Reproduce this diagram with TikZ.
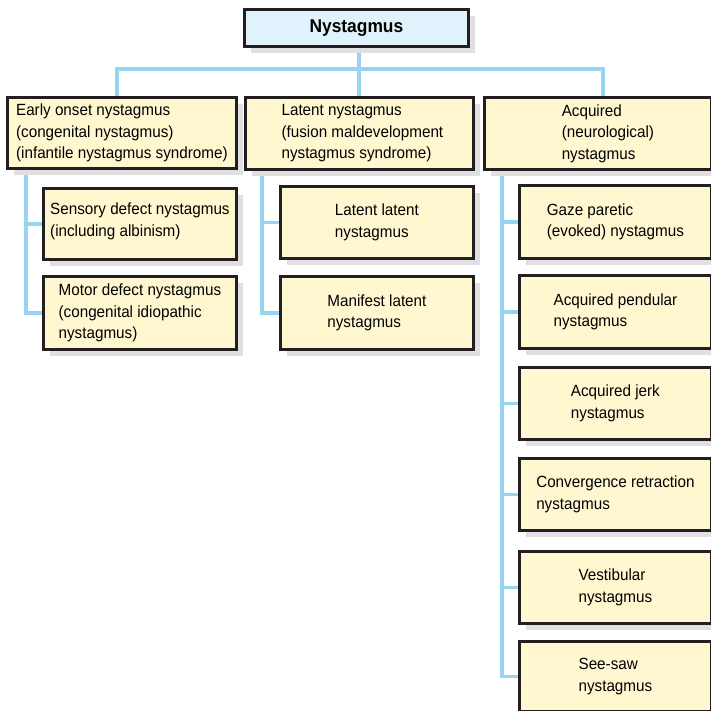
\documentclass[tikz,border=0pt]{standalone}
\usepackage{fontspec}
\setmainfont{Liberation Sans}[FakeStretch=0.94]
\usetikzlibrary{shadows,backgrounds}
\definecolor{boxfill}{RGB}{255,247,208}
\definecolor{topfill}{RGB}{224,242,251}
\definecolor{conncol}{RGB}{150,212,240}
\definecolor{shadowcol}{RGB}{224,224,227}
\definecolor{edgecol}{RGB}{35,31,32}
\tikzset{
  box/.style={draw=edgecol, line width=2.8pt, fill=boxfill, anchor=north west,
    align=left, inner sep=2pt,
    font=\fontsize{16.2}{21.5}\selectfont,
    drop shadow={shadow xshift=7pt, shadow yshift=-7pt, fill=shadowcol, opacity=1}},
  topbox/.style={box, fill=topfill, font=\fontsize{18.5}{21}\selectfont\bfseries},
  conn/.style={draw=conncol, line width=3.2pt},
}
\begin{document}
\begin{tikzpicture}[x=1pt,y=-1pt]
\useasboundingbox (0,0) rectangle (711,711);
\coordinate (hy) at (0,69);
\coordinate (xl) at (117,0);
\coordinate (xm) at (359,0);
\coordinate (xr) at (603,0);
\coordinate (xa) at (26,0);
\coordinate (xb) at (262,0);
\coordinate (xc) at (502,0);
% top
\node[topbox, minimum width=224, minimum height=37] (T) at (243,8) {Nystagmus};
% level 2
\node[box, minimum width=229, minimum height=71] (A) at (6,96)
  {Early onset nystagmus\\(congenital nystagmus)\\(infantile nystagmus syndrome)};
\node[box, minimum width=228, minimum height=72] (B) at (244,96)
  {\hspace*{6pt}Latent nystagmus\\\hspace*{6pt}(fusion maldevelopment\\\hspace*{6pt}nystagmus syndrome)};
\node[box, minimum width=227, minimum height=72] (C) at (483,96)
  {\hspace*{20pt}Acquired\\\hspace*{20pt}(neurological)\\\hspace*{20pt}nystagmus};
% level 3 left
\node[box, minimum width=193, minimum height=71] (A1) at (42,187)
  {Sensory defect nystagmus\\(including albinism)\\[-13pt]\mbox{}};
\node[box, minimum width=193, minimum height=73] (A2) at (42,275)
  {Motor defect nystagmus\\(congenital idiopathic\\nystagmus)};
% level 3 middle
\node[box, minimum width=193, minimum height=72] (B1) at (279,185)
  {Latent latent\\nystagmus};
\node[box, minimum width=193, minimum height=73] (B2) at (279,275)
  {Manifest latent\\nystagmus};
% level 3 right
\node[box, minimum width=192, minimum height=73] (C1) at (518,184)
  {Gaze paretic\\(evoked) nystagmus};
\node[box, minimum width=192, minimum height=73] (C2) at (518,274)
  {Acquired pendular\\nystagmus};
\node[box, minimum width=192, minimum height=72] (C3) at (518,366)
  {Acquired jerk\\nystagmus};
\node[box, minimum width=192, minimum height=72] (C4) at (518,457)
  {Convergence retraction\\nystagmus};
\node[box, minimum width=192, minimum height=72] (C5) at (518,550)
  {Vestibular\\nystagmus};
\node[box, minimum width=192, minimum height=70] (C6) at (518,640)
  {See-saw\\nystagmus};
% connectors behind the boxes
\begin{scope}[on background layer]
\draw[conn] (xm |- T.south) -- (xm |- B.north);
\draw[conn] (xl |- A.north) -- (xl |- hy) -- (xr |- hy) -- (xr |- C.north);
\draw[conn] (xa |- A.south) |- (A1.west);
\draw[conn] (xa |- A.south) |- (A2.west);
\draw[conn] (xb |- B.south) |- (B1.west);
\draw[conn] (xb |- B.south) |- (B2.west);
\draw[conn] (xc |- C.south) |- (C1.west);
\draw[conn] (xc |- C.south) |- (C2.west);
\draw[conn] (xc |- C.south) |- (C3.west);
\draw[conn] (xc |- C.south) |- (C4.west);
\draw[conn] (xc |- C.south) |- (C5.west);
\draw[conn] (xc |- C.south) |- (C6.west);
\end{scope}
\end{tikzpicture}
\end{document}
